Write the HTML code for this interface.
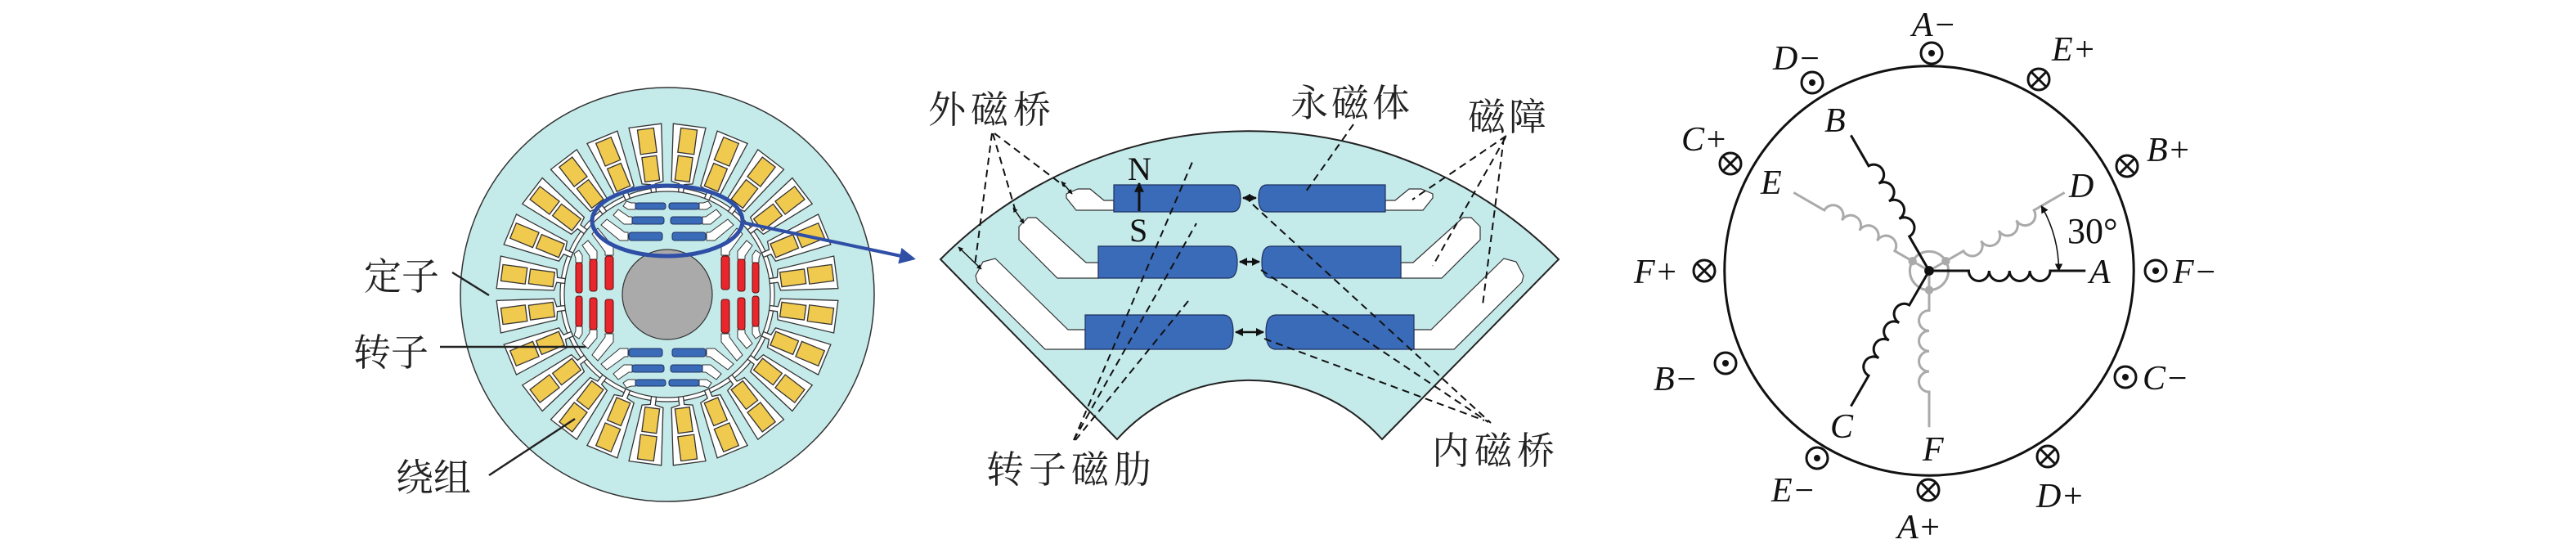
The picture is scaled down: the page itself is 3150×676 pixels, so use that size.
<!DOCTYPE html>
<html><head><meta charset="utf-8"><style>
html,body{margin:0;padding:0;background:#fff;}
svg{display:block;}
.cn{font-family:"Liberation Serif","Noto Serif CJK SC","Noto Sans CJK SC",serif;font-size:46px;fill:#222;}
.it{font-family:"Liberation Serif",serif;font-style:italic;font-size:42px;fill:#111;}
</style></head><body>
<svg width="3150" height="676" viewBox="0 0 3150 676" xmlns="http://www.w3.org/2000/svg">
<defs>
  <g id="slot">
    <polygon points="126,-3 136,-3 138,-13 208,-20 208,20 138,13 136,3 126,3" fill="#fff" stroke="#333" stroke-width="1.3"/>
    <rect x="140" y="-9" width="30" height="18" fill="#f0c94f" stroke="#333" stroke-width="1.3"/>
    <rect x="174" y="-10" width="30" height="20" fill="#f0c94f" stroke="#333" stroke-width="1.3"/>
  </g>
  <g id="barL">
    <polygon points="39,-112 44,-112 50,-114 54,-108 48,-104 39,-104" fill="#fff" stroke="#333" stroke-width="1"/>
    <polygon points="43,-95 47,-95 60,-104 66,-97 53,-86 43,-86" fill="#fff" stroke="#333" stroke-width="1"/>
    <polygon points="48,-76 52,-76 74,-92 81,-85 58,-66 48,-66" fill="#fff" stroke="#333" stroke-width="1"/>
  </g>
  <g id="pole">
    <use href="#barL"/>
    <use href="#barL" transform="scale(-1,1)"/>
    <rect x="2" y="-112" width="37" height="8" rx="3"/>
    <rect x="-39" y="-112" width="37" height="8" rx="3"/>
    <rect x="4" y="-95" width="39" height="9" rx="3"/>
    <rect x="-43" y="-95" width="39" height="9" rx="3"/>
    <rect x="6" y="-76" width="41" height="10" rx="3"/>
    <rect x="-47" y="-76" width="41" height="10" rx="3"/>
  </g>
  <marker id="ah" viewBox="0 0 10 10" refX="9" refY="5" markerWidth="6" markerHeight="6" orient="auto-start-reverse"><path d="M0,0 L10,5 L0,10 z" fill="#111"/></marker>
  <marker id="ahs" viewBox="0 0 10 10" refX="9" refY="5" markerWidth="4" markerHeight="4" orient="auto-start-reverse"><path d="M0,0 L10,5 L0,10 z" fill="#111"/></marker>
  <marker id="ahb" viewBox="0 0 10 10" refX="8" refY="5" markerWidth="5" markerHeight="5" orient="auto"><path d="M0,0 L10,5 L0,10 z" fill="#2f4fa6"/></marker>
  <path id="coil" d="M0,0 H37 a9.5,9.5 0 0 0 19,0 a9.5,9.5 0 0 0 19,0 a9.5,9.5 0 0 0 19,0 a9.5,9.5 0 0 0 19,0 H146" fill="none"/>
</defs>

<!-- ========== LEFT MOTOR ========== -->
<g transform="translate(816,360)">
  <circle r="253" fill="#c5eaea" stroke="#333" stroke-width="1.5"/>
  <circle r="131" fill="#fff" stroke="#333" stroke-width="1.2"/>
  <g>
    <use href="#slot" transform="rotate(7.5)"/><use href="#slot" transform="rotate(22.5)"/>
    <use href="#slot" transform="rotate(37.5)"/><use href="#slot" transform="rotate(52.5)"/>
    <use href="#slot" transform="rotate(67.5)"/><use href="#slot" transform="rotate(82.5)"/>
    <use href="#slot" transform="rotate(97.5)"/><use href="#slot" transform="rotate(112.5)"/>
    <use href="#slot" transform="rotate(127.5)"/><use href="#slot" transform="rotate(142.5)"/>
    <use href="#slot" transform="rotate(157.5)"/><use href="#slot" transform="rotate(172.5)"/>
    <use href="#slot" transform="rotate(187.5)"/><use href="#slot" transform="rotate(202.5)"/>
    <use href="#slot" transform="rotate(217.5)"/><use href="#slot" transform="rotate(232.5)"/>
    <use href="#slot" transform="rotate(247.5)"/><use href="#slot" transform="rotate(262.5)"/>
    <use href="#slot" transform="rotate(277.5)"/><use href="#slot" transform="rotate(292.5)"/>
    <use href="#slot" transform="rotate(307.5)"/><use href="#slot" transform="rotate(322.5)"/>
    <use href="#slot" transform="rotate(337.5)"/><use href="#slot" transform="rotate(352.5)"/>
  </g>
  <circle r="126" fill="#c5eaea" stroke="#333" stroke-width="1.2"/>
  <g fill="#3a6bb8" stroke="#1f3160" stroke-width="1">
    <use href="#pole"/>
    <use href="#pole" transform="rotate(180)"/>
  </g>
  <g fill="#e8262b" stroke="#5a1010" stroke-width="1">
    <use href="#pole" transform="rotate(90)"/>
    <use href="#pole" transform="rotate(-90)"/>
  </g>
  <circle r="55" fill="#aaaaaa" stroke="#333" stroke-width="1.2"/>
  <ellipse cx="0" cy="-90" rx="92" ry="43" fill="none" stroke="#2f4fa6" stroke-width="5"/>
</g>
<line x1="908" y1="272" x2="1116" y2="316" stroke="#2f4fa6" stroke-width="4" marker-end="url(#ahb)"/>

<!-- left labels -->
<text class="cn" x="445" y="354">定子</text>
<line x1="553" y1="333" x2="598" y2="361" stroke="#222" stroke-width="2.5"/>
<text class="cn" x="432" y="447">转子</text>
<line x1="538" y1="424" x2="716" y2="424" stroke="#222" stroke-width="2.5"/>
<text class="cn" x="484" y="600">绕组</text>
<line x1="598" y1="581" x2="703" y2="512" stroke="#222" stroke-width="2.5"/>

<!-- ========== SECTOR ========== -->
<path d="M1150,317 A534,534 0 0 1 1906,317 L1690,537 A218,218 0 0 0 1366,537 Z" fill="#c5eaea" stroke="#222" stroke-width="2"/>
<g fill="#fff" stroke="#333" stroke-width="1.2">
  <polygon points="1304,242 1316,257 1362,257 1362,245 1350,245 1333,231 1318,231 1304,237"/>
  <polygon points="1752,242 1740,257 1694,257 1694,245 1706,245 1723,231 1738,231 1752,237"/>
  <polygon points="1246,277 1257,266 1267,266 1328,321 1343,321 1343,340 1293,340 1246,293"/>
  <polygon points="1810,277 1799,266 1789,266 1728,321 1713,321 1713,340 1763,340 1810,293"/>
  <polygon points="1193,337 1202,320 1217,316 1306,403 1327,403 1327,427 1278,427 1195,345"/>
  <polygon points="1863,337 1854,320 1839,316 1750,403 1729,403 1729,427 1778,427 1861,345"/>
</g>
<g fill="#3a6bb8" stroke="#1f3160" stroke-width="1.2">
  <path d="M1362,226 H1507 Q1517,226 1517,242.5 Q1517,259 1507,259 H1362 Z"/>
  <path d="M1694,226 H1549 Q1539,226 1539,242.5 Q1539,259 1549,259 H1694 Z"/>
  <path d="M1343,301 H1502 Q1513,301 1513,320.5 Q1513,340 1502,340 H1343 Z"/>
  <path d="M1713,301 H1554 Q1543,301 1543,320.5 Q1543,340 1554,340 H1713 Z"/>
  <path d="M1327,385 H1496 Q1508,385 1508,406 Q1508,427 1496,427 H1327 Z"/>
  <path d="M1729,385 H1560 Q1548,385 1548,406 Q1548,427 1560,427 H1729 Z"/>
</g>
<!-- N S -->
<text x="1379" y="220" style="font-family:'Liberation Serif',serif;font-size:40px;fill:#111">N</text>
<text x="1381" y="295" style="font-family:'Liberation Serif',serif;font-size:40px;fill:#111">S</text>
<line x1="1393" y1="258" x2="1393" y2="224" stroke="#111" stroke-width="3" marker-end="url(#ahs)"/>
<!-- inner bridge arrows -->
<g stroke="#111" stroke-width="2.5">
  <line x1="1520" y1="242" x2="1536" y2="242" marker-start="url(#ahs)" marker-end="url(#ahs)"/>
  <line x1="1516" y1="320" x2="1540" y2="320" marker-start="url(#ahs)" marker-end="url(#ahs)"/>
  <line x1="1511" y1="406" x2="1545" y2="406" marker-start="url(#ahs)" marker-end="url(#ahs)"/>
</g>
<!-- outer bridge arrows -->
<g stroke="#111" stroke-width="1.5">
  <line x1="1172" y1="302" x2="1200" y2="329" marker-start="url(#ahs)" marker-end="url(#ahs)"/>
  <line x1="1239" y1="254" x2="1252" y2="273" marker-start="url(#ahs)" marker-end="url(#ahs)"/>
  <line x1="1298" y1="222" x2="1311" y2="237" marker-start="url(#ahs)" marker-end="url(#ahs)"/>
</g>
<!-- dashed leaders -->
<g stroke="#111" stroke-width="2" stroke-dasharray="9,6" fill="none">
  <line x1="1213" y1="163" x2="1192" y2="325"/>
  <line x1="1214" y1="163" x2="1243" y2="262"/>
  <line x1="1216" y1="163" x2="1302" y2="228"/>
  <line x1="1655" y1="152" x2="1597" y2="234"/>
  <line x1="1842" y1="166" x2="1727" y2="244"/>
  <line x1="1841" y1="168" x2="1752" y2="325"/>
  <line x1="1839" y1="168" x2="1813" y2="373"/>
  <line x1="1313" y1="538" x2="1458" y2="198"/>
  <line x1="1313" y1="538" x2="1463" y2="273"/>
  <line x1="1315" y1="538" x2="1453" y2="368"/>
  <line x1="1532" y1="250" x2="1823" y2="517"/>
  <line x1="1542" y1="330" x2="1820" y2="516"/>
  <line x1="1546" y1="414" x2="1815" y2="514"/>
</g>
<text class="cn" x="1135" y="150" letter-spacing="6">外磁桥</text>
<text class="cn" x="1578" y="142" letter-spacing="4">永磁体</text>
<text class="cn" x="1795" y="159" letter-spacing="4">磁障</text>
<text class="cn" x="1206" y="590" letter-spacing="6">转子磁肋</text>
<text class="cn" x="1751" y="567" letter-spacing="6">内磁桥</text>

<!-- ========== WINDING DIAGRAM ========== -->
<g transform="translate(2359,331) scale(1.31)">
  <circle r="191" fill="none" stroke="#111" stroke-width="2.3"/>
  <g stroke="#aaa" stroke-width="2.3" fill="none">
    <circle r="18"/>
    <use href="#coil" transform="rotate(-30)"/>
    <use href="#coil" transform="rotate(-150)"/>
    <use href="#coil" transform="rotate(90)"/>
  </g>
  <g stroke="#111" stroke-width="2.3" fill="none">
    <use href="#coil"/>
    <use href="#coil" transform="rotate(-120)"/>
    <use href="#coil" transform="rotate(120)"/>
  </g>
  <g fill="#aaa">
    <circle cx="15.5" cy="-9" r="4"/>
    <circle cx="-15.5" cy="-9" r="4"/>
    <circle cx="0" cy="18" r="4"/>
  </g>
  <circle r="4.5" fill="#111"/>
  <path d="M104.8,-60.5 A121,121 0 0 1 121,0" fill="none" stroke="#111" stroke-width="1.2" marker-start="url(#ah)" marker-end="url(#ah)"/>
</g>
<text x="2528" y="297" style="font-family:'Liberation Serif',serif;font-size:44px;fill:#111">30°</text>
<!-- symbols -->
<g stroke="#111" stroke-width="3" fill="#fff">
  <circle cx="2362" cy="65" r="13"/>
  <circle cx="2216" cy="101" r="13"/>
  <circle cx="2110" cy="444" r="13"/>
  <circle cx="2222" cy="560" r="13"/>
  <circle cx="2636" cy="331" r="13"/>
  <circle cx="2599" cy="461" r="13"/>
  <circle cx="2493" cy="97" r="13"/>
  <circle cx="2601" cy="203" r="13"/>
  <circle cx="2116" cy="200" r="13"/>
  <circle cx="2084" cy="331" r="13"/>
  <circle cx="2504" cy="558" r="13"/>
  <circle cx="2358" cy="599" r="13"/>
</g>
<g fill="#111">
  <circle cx="2362" cy="65" r="4"/><circle cx="2216" cy="101" r="4"/>
  <circle cx="2110" cy="444" r="4"/><circle cx="2222" cy="560" r="4"/>
  <circle cx="2636" cy="331" r="4"/><circle cx="2599" cy="461" r="4"/>
</g>
<g stroke="#111" stroke-width="3">
  <path d="M2484,88 l18,18 M2502,88 l-18,18"/>
  <path d="M2592,194 l18,18 M2610,194 l-18,18"/>
  <path d="M2107,191 l18,18 M2125,191 l-18,18"/>
  <path d="M2075,322 l18,18 M2093,322 l-18,18"/>
  <path d="M2495,549 l18,18 M2513,549 l-18,18"/>
  <path d="M2349,590 l18,18 M2367,590 l-18,18"/>
</g>
<g>
  <text class="it" x="2338" y="44">A−</text>
  <text class="it" x="2168" y="85">D−</text>
  <text class="it" x="2509" y="74">E+</text>
  <text class="it" x="2056" y="184">C+</text>
  <text class="it" x="2625" y="197">B+</text>
  <text class="it" x="1998" y="346">F+</text>
  <text class="it" x="2657" y="346">F−</text>
  <text class="it" x="2022" y="477">B−</text>
  <text class="it" x="2620" y="476">C−</text>
  <text class="it" x="2166" y="613">E−</text>
  <text class="it" x="2490" y="620">D+</text>
  <text class="it" x="2320" y="658">A+</text>
  <text class="it" x="2231" y="161">B</text>
  <text class="it" x="2153" y="237">E</text>
  <text class="it" x="2530" y="241">D</text>
  <text class="it" x="2555" y="346">A</text>
  <text class="it" x="2238" y="535">C</text>
  <text class="it" x="2351" y="563">F</text>
</g>
</svg>
</body></html>
